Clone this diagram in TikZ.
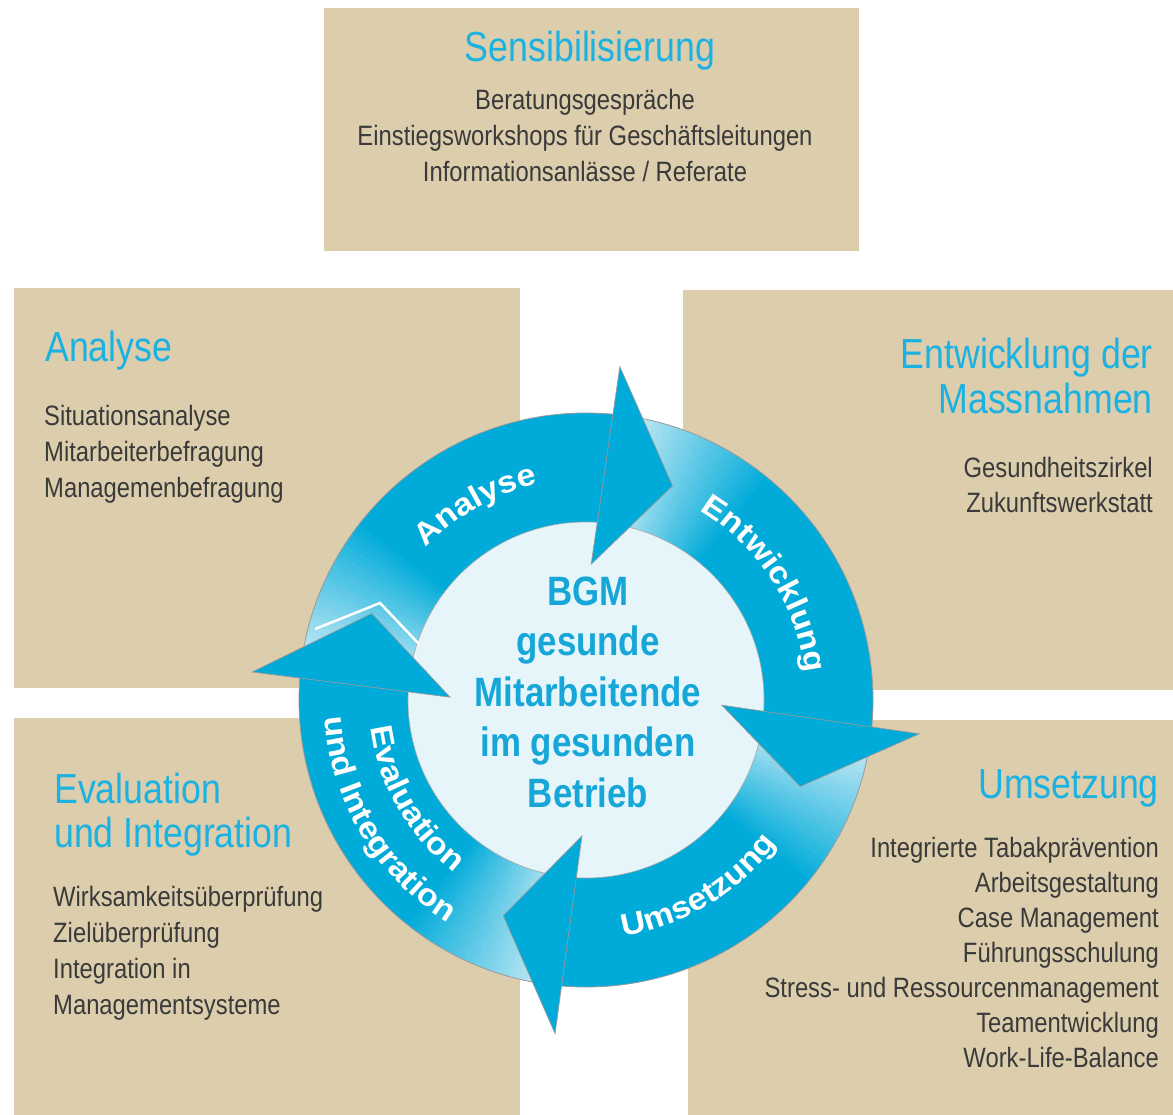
\documentclass[tikz,border=0pt]{standalone}
\usepackage{fontspec}
\setmainfont[FakeStretch=0.85]{Liberation Sans}
\newfontfamily\ringfont[FakeStretch=1.1]{Liberation Sans}
\usetikzlibrary{decorations.text}

\definecolor{boxbeige}{HTML}{DCCDAD}
\definecolor{headcyan}{HTML}{1BB2E2}
\definecolor{bodygray}{HTML}{3A3A3A}
\definecolor{ringblue}{HTML}{00ABD9}
\definecolor{ringlight}{HTML}{E2F3F9}
\definecolor{centerlight}{HTML}{E6F5FA}
\definecolor{centertxt}{HTML}{16A7D8}

% annular piece of the ring between two angles
\newcommand{\ringpart}[2]{(#1:287) arc[start angle=#1, end angle=#2, radius=287] -- (#2:178) arc[start angle=#2, end angle=#1, radius=178] -- cycle}

% fade in of a shaft, starting at #1
\newcommand{\bgmfade}[1]{%
  \foreach \k in {0,...,29} {
    \pgfmathsetmacro{\shA}{#1-\k*1.2}
    \pgfmathsetmacro{\shB}{#1-(\k+1)*1.2-0.4}
    \pgfmathtruncatemacro{\shC}{\k*100/29}
    \fill[ringblue!\shC!ringlight] \ringpart{\shA}{\shB};
  }
}

% full blue part of a shaft, up to just under the head at #2
\newcommand{\bgmbody}[2]{%
  \pgfmathsetmacro{\shA}{#1-35.6}
  \pgfmathsetmacro{\shB}{#2-3}
  \fill[ringblue] \ringpart{\shA}{\shB};
}

% head: barb at #1, tip at #2
\newcommand{\bgmhead}[2]{%
  \pgfmathsetmacro{\hdI}{#1+1.8}
  \pgfmathsetmacro{\hdO}{#1-1.8}
  \filldraw[head] (\hdI:136) -- (\hdO:335) -- (#2:231) -- cycle;
}

\tikzset{
  box/.style={fill=boxbeige},
  ttl/.style={text=headcyan, inner sep=0pt, font=\fontsize{42}{45}\selectfont},
  itm/.style={text=bodygray, inner sep=0pt, font=\fontsize{28}{36}\selectfont},
  mid/.style={text=centertxt, inner sep=0pt, font=\bfseries\fontsize{41}{50}\selectfont},
  head/.style={fill=ringblue, draw=black!40, line width=0.7pt, line join=miter},
  ringline/.style={draw=black!40, line width=0.8pt},
  ringtext/.style={decorate, decoration={text along path, text color=white, text align=center,
    text={|\ringfont\bfseries\fontsize{31}{31}\selectfont|#1}}}
}

\begin{document}
\begin{tikzpicture}[x=1pt, y=-1pt]
  \useasboundingbox (0,0) rectangle (1173,1115);

  % boxes
  \fill[box] (324,8) rectangle (859,251);
  \fill[box] (14,288) rectangle (520,688);
  \fill[box] (683,290) rectangle (1173,690);
  \fill[box] (14,718) rectangle (520,1115);
  \fill[box] (688,720) rectangle (1173,1115);

  % Sensibilisierung
  \node[ttl, anchor=base] (sens) at (590,62) {Sensibilisierung};
  \foreach \t [count=\i] in {Beratungsgespräche,Einstiegsworkshops für Geschäftsleitungen,Informationsanlässe / Referate}
    \node[itm, anchor=base] (sens\i) at (585,{110+36*(\i-1)}) {\t};

  % Analyse
  \node[ttl, anchor=base west] (ana) at (45,362) {Analyse};
  \foreach \t [count=\i] in {Situationsanalyse,Mitarbeiterbefragung,Managemenbefragung}
    \node[itm, anchor=base west] (ana\i) at (44,{425+36*(\i-1)}) {\t};

  % Entwicklung der Massnahmen
  \node[ttl, anchor=base east] (ent) at (1153,368) {Entwicklung der};
  \node[ttl, anchor=base east] (entb) at (1153,413) {Massnahmen};
  \foreach \t [count=\i] in {Gesundheitszirkel,Zukunftswerkstatt}
    \node[itm, anchor=base east] (ent\i) at (1153,{477+35*(\i-1)}) {\t};

  % Evaluation und Integration
  \node[ttl, anchor=base west] (eva) at (54,803) {Evaluation};
  \node[ttl, anchor=base west] (evab) at (54,847) {und Integration};
  \foreach \t [count=\i] in {Wirksamkeitsüberprüfung,Zielüberprüfung,Integration in,Managementsysteme}
    \node[itm, anchor=base west] (eva\i) at (53,{906+36*(\i-1)}) {\t};

  % Umsetzung
  \node[ttl, anchor=base east] (ums) at (1159,798) {Umsetzung};
  \foreach \t [count=\i] in {Integrierte Tabakprävention,Arbeitsgestaltung,Case Management,Führungsschulung,Stress- und Ressourcenmanagement,Teamentwicklung,Work-Life-Balance}
    \node[itm, anchor=base east] (ums\i) at (1159,{857+35*(\i-1)}) {\t};

  % cycle
  \begin{scope}[shift={(586,700)}, y=1pt]
    \fill[ringlight] (0,0) circle[radius=287];
    \bgmfade{177}
    \bgmfade{86}
    \bgmfade{-4}
    \bgmfade{-93.5}
    \bgmbody{177}{86}
    \bgmbody{86}{-4}
    \bgmbody{-4}{-93.5}
    \bgmbody{-93.5}{-183}
    \draw[ringline] (0,0) circle[radius=287];
    \filldraw[fill=centerlight, draw=black!35, line width=0.6pt] (0,0) circle[radius=178];
    \draw[white, line width=2.5pt, line join=miter] (-271,71) -- (-206,97) -- (-167,56);
    \bgmhead{86}{68}
    \bgmhead{-4}{-22}
    \bgmhead{-93.5}{-111}
    \bgmhead{-183}{-202}
    \path[ringtext=Analyse] (152:221) arc[start angle=152, end angle=87, radius=221];
    \path[ringtext=Entwicklung] (75:221) arc[start angle=75, end angle=-9, radius=221];
    \path[ringtext=Umsetzung] (-101:239) arc[start angle=-101, end angle=-17, radius=239];
    \path[ringtext=Evaluation] (168:217) arc[start angle=168, end angle=252, radius=217];
    \path[ringtext=und Integration] (164:262) arc[start angle=164, end angle=258, radius=262];
  \end{scope}

  % BGM
  \foreach \t [count=\i] in {BGM,gesunde,Mitarbeitende,im gesunden,Betrieb}
    \node[mid, anchor=base] (bgm\i) at (588,{605+50.5*(\i-1)}) {\t};
\end{tikzpicture}
\end{document}
